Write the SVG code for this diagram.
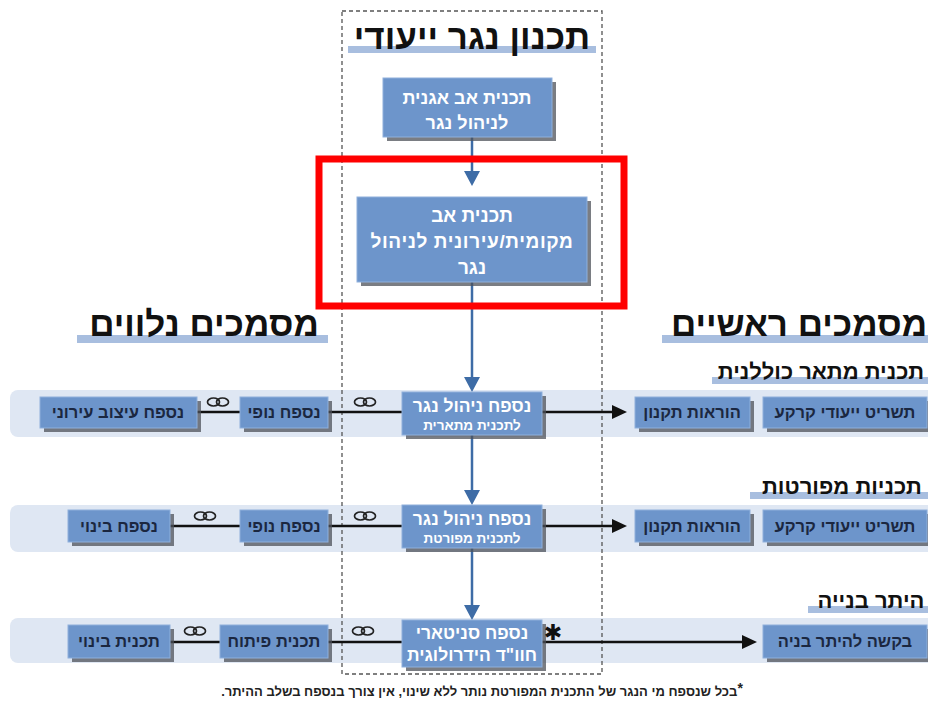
<svg xmlns="http://www.w3.org/2000/svg" width="928" height="704" viewBox="0 0 928 704">
<style>
text{font-family:"Liberation Sans","DejaVu Sans",sans-serif;font-weight:bold;direction:rtl}
.box{fill:#6d95cb;stroke:#8fb0dc;stroke-width:1}
.shd{fill:#4d5159;opacity:0.75}
.wt{fill:#ffffff;text-anchor:middle}
.dk{fill:#1b2740;text-anchor:middle;font-size:16.5px}
.band{fill:#dfe7f3}
.bar{fill:#a8bedf}
.h1{fill:#111;font-size:35px;text-anchor:middle}
.h2{fill:#111;font-size:22px;text-anchor:middle}
.vl{stroke:#3e6ca6;stroke-width:2.5;fill:none}
.vh{fill:#3e6ca6}
.hl{stroke:#111;stroke-width:2.5;fill:none}
.ah{fill:#111}
</style>
<defs>
<g id="link"><ellipse cx="-4.5" cy="0" rx="6" ry="4" fill="none" stroke="#222" stroke-width="1.7"/><ellipse cx="4.5" cy="0" rx="6" ry="4" fill="none" stroke="#222" stroke-width="1.7"/></g>
</defs>
<rect width="928" height="704" fill="#ffffff"/>

<!-- bands -->
<rect class="band" x="10" y="390" width="940" height="47" rx="8"/>
<rect class="band" x="10" y="505" width="940" height="47" rx="8"/>
<rect class="band" x="10" y="618" width="940" height="45" rx="8"/>

<!-- dashed frame -->
<rect x="342" y="11" width="260" height="663" fill="none" stroke="#555" stroke-width="1.3" stroke-dasharray="4,3"/>

<!-- headings -->
<g id="title"><rect class="bar" x="348" y="46" width="248" height="7"/><text class="h1" x="472" y="49">תכנון נגר ייעודי</text></g>
<g id="head-left"><rect class="bar" x="77" y="335" width="251" height="8"/><text class="h1" x="204" y="336">מסמכים נלווים</text></g>
<g id="head-right"><rect class="bar" x="662" y="335" width="266" height="8"/><text class="h1" x="799" y="336">מסמכים ראשיים</text></g>
<g id="head-row1"><rect class="bar" x="712" y="377" width="216" height="7"/><text class="h2" x="821" y="379">תכנית מתאר כוללנית</text></g>
<g id="head-row2"><rect class="bar" x="750" y="492" width="178" height="7"/><text class="h2" x="842" y="494">תכניות מפורטות</text></g>
<g id="head-row3"><rect class="bar" x="808" y="606" width="120" height="7"/><text class="h2" x="871" y="608">היתר בנייה</text></g>

<!-- connectors -->
<g id="connectors">
<line class="vl" x1="472" y1="137" x2="472" y2="172"/><polygon class="vh" points="464,171 480,171 472,186"/>
<line class="vl" x1="472" y1="282" x2="472" y2="378"/><polygon class="vh" points="464,377 480,377 472,392"/>
<line class="vl" x1="472" y1="435" x2="472" y2="491"/><polygon class="vh" points="464,490 480,490 472,505"/>
<line class="vl" x1="472" y1="548" x2="472" y2="606"/><polygon class="vh" points="464,605 480,605 472,620"/>

<line class="hl" x1="197" y1="412" x2="240" y2="412"/>
<line class="hl" x1="328" y1="412" x2="402" y2="412"/>
<line class="hl" x1="542" y1="412" x2="614" y2="412"/><polygon class="ah" points="612,405 627,412 612,419"/>
<line class="hl" x1="170" y1="526" x2="240" y2="526"/>
<line class="hl" x1="328" y1="526" x2="402" y2="526"/>
<line class="hl" x1="542" y1="526" x2="614" y2="526"/><polygon class="ah" points="612,519 627,526 612,533"/>
<line class="hl" x1="170" y1="642" x2="220" y2="642"/>
<line class="hl" x1="328" y1="642" x2="402" y2="642"/>
<line class="hl" x1="542" y1="642" x2="744" y2="642"/><polygon class="ah" points="742,635 757,642 742,649"/>

<use href="#link" x="218" y="402"/>
<use href="#link" x="365" y="402"/>
<use href="#link" x="205" y="516"/>
<use href="#link" x="365" y="516"/>
<use href="#link" x="195" y="631"/>
<use href="#link" x="363" y="631"/>
</g>

<!-- central nodes -->
<g id="n-agan"><rect class="shd" x="387" y="82" width="169" height="59"/><rect class="box" x="383" y="78" width="169" height="59"/><text class="wt" x="467" y="104" font-size="18">תכנית אב אגנית</text><text class="wt" x="467" y="129" font-size="18">לניהול נגר</text></g>
<g id="n-local"><rect class="shd" x="361" y="201" width="230" height="85"/><rect class="box" x="357" y="197" width="230" height="85"/><text class="wt" x="472" y="222" font-size="19">תכנית אב</text><text class="wt" x="472" y="248" font-size="19" letter-spacing="0.6">מקומית/עירונית לניהול</text><text class="wt" x="472" y="274" font-size="19">נגר</text></g>
<g id="n-mitar"><rect class="shd" x="406" y="396" width="140" height="43"/><rect class="box" x="402" y="392" width="140" height="43"/><text class="wt" x="472" y="412" font-size="17.5">נספח ניהול נגר</text><text class="wt" x="472" y="430" font-size="13.5">לתכנית מתארית</text></g>
<g id="n-mefo"><rect class="shd" x="406" y="509" width="140" height="43"/><rect class="box" x="402" y="505" width="140" height="43"/><text class="wt" x="472" y="525" font-size="17.5">נספח ניהול נגר</text><text class="wt" x="472" y="543" font-size="13.5">לתכנית מפורטת</text></g>
<g id="n-sanit"><rect class="shd" x="406" y="624" width="140" height="47"/><rect class="box" x="402" y="620" width="140" height="47"/><text class="wt" x="472" y="639" font-size="17.5">נספח סניטארי</text><text class="wt" x="472" y="661" font-size="17.5">חוו"ד הידרולוגית</text><text x="553" y="640" font-size="22" fill="#111" text-anchor="middle">✱</text></g>

<!-- row 1 side nodes -->
<g id="r1-itzuv"><rect class="shd" x="44" y="401" width="157" height="31"/><rect class="box" x="40" y="397" width="157" height="31"/><text class="dk" x="118" y="418">נספח עיצוב עירוני</text></g>
<g id="r1-nofi"><rect class="shd" x="244" y="401" width="88" height="31"/><rect class="box" x="240" y="397" width="88" height="31"/><text class="dk" x="284" y="418">נספח נופי</text></g>
<g id="r1-horaot"><rect class="shd" x="639" y="401" width="115" height="31"/><rect class="box" x="635" y="397" width="115" height="31"/><text class="dk" x="692" y="418">הוראות תקנון</text></g>
<g id="r1-tashrit"><rect class="shd" x="767" y="401" width="164" height="31"/><rect class="box" x="763" y="397" width="164" height="31"/><text class="dk" x="845" y="418">תשריט ייעודי קרקע</text></g>

<!-- row 2 side nodes -->
<g id="r2-binui"><rect class="shd" x="72" y="514" width="102" height="32"/><rect class="box" x="68" y="510" width="102" height="32"/><text class="dk" x="119" y="532">נספח בינוי</text></g>
<g id="r2-nofi"><rect class="shd" x="244" y="514" width="88" height="32"/><rect class="box" x="240" y="510" width="88" height="32"/><text class="dk" x="284" y="532">נספח נופי</text></g>
<g id="r2-horaot"><rect class="shd" x="639" y="514" width="115" height="32"/><rect class="box" x="635" y="510" width="115" height="32"/><text class="dk" x="692" y="532">הוראות תקנון</text></g>
<g id="r2-tashrit"><rect class="shd" x="767" y="514" width="164" height="32"/><rect class="box" x="763" y="510" width="164" height="32"/><text class="dk" x="845" y="532">תשריט ייעודי קרקע</text></g>

<!-- row 3 side nodes -->
<g id="r3-binui"><rect class="shd" x="72" y="629" width="102" height="33"/><rect class="box" x="68" y="625" width="102" height="33"/><text class="dk" x="119" y="647">תכנית בינוי</text></g>
<g id="r3-pituach"><rect class="shd" x="224" y="629" width="108" height="33"/><rect class="box" x="220" y="625" width="108" height="33"/><text class="dk" x="274" y="647">תכנית פיתוח</text></g>
<g id="r3-bakasha"><rect class="shd" x="767" y="629" width="164" height="33"/><rect class="box" x="763" y="625" width="164" height="33"/><text class="dk" x="845" y="647">בקשה להיתר בניה</text></g>

<!-- highlight -->
<rect x="319" y="159" width="305" height="147" fill="none" stroke="#ff0000" stroke-width="7"/>

<!-- footnote -->
<text x="482" y="696" font-size="13" fill="#222" text-anchor="middle" font-weight="normal"><tspan font-weight="bold" font-size="14" dy="-3">*</tspan><tspan dy="3">בכל שנספח מי הנגר של התכנית המפורטת נותר ללא שינוי, אין צורך בנספח בשלב ההיתר.</tspan></text>
</svg>
